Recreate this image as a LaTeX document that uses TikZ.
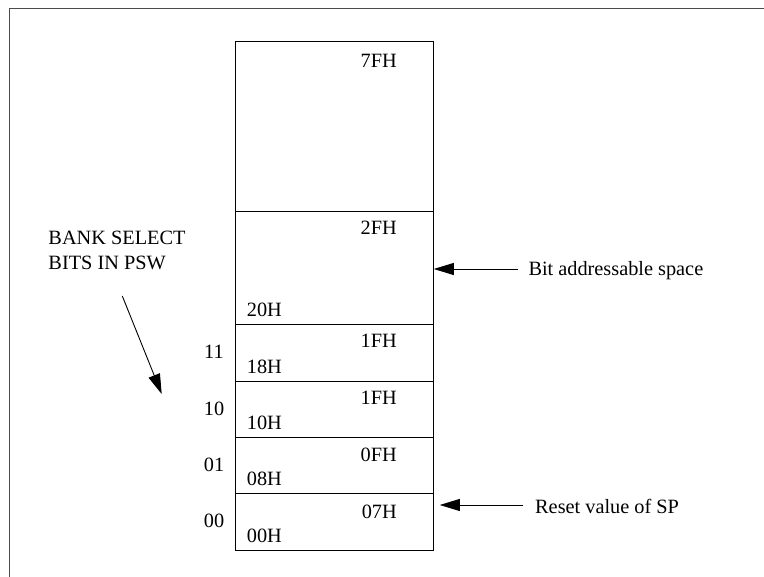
\documentclass[tikz,border=0pt]{standalone}
\usepackage{fontspec}
\setmainfont{Liberation Serif}
\usetikzlibrary{arrows.meta}
\begin{document}
\begin{tikzpicture}[x=1pt,y=-1pt,
  font=\fontsize{20.3}{24}\selectfont,
  cell/.style={draw=black, line width=1pt, inner sep=0pt, outer sep=0pt, anchor=north west, minimum width=197.6pt},
  hi/.style={anchor=base east, inner sep=0pt},
  lo/.style={anchor=base west, inner sep=0pt},
  bank/.style={anchor=base, inner sep=0pt},
  txt/.style={anchor=base west, inner sep=0pt},
  arr/.style={line width=0.9pt, -{Triangle[length=20pt,width=12pt]}},
  frame/.style={draw=black!70, line width=1.2pt}]
\useasboundingbox (0,0) rectangle (764,577);
\draw[frame] (764,8.5) -- (9.5,8.5) -- (9.5,577);
% memory cells
\node[cell, minimum height=169.7pt] (c7F) at (235.7,42) {};
\node[cell, minimum height=113.3pt] (c2F) at (235.7,211.7) {};
\node[cell, minimum height=56.7pt] (c1F) at (235.7,325) {};
\node[cell, minimum height=55.6pt] (c17) at (235.7,381.7) {};
\node[cell, minimum height=56.7pt] (c0F) at (235.7,437.3) {};
\node[cell, minimum height=56.7pt] (c07) at (235.7,494) {};
% address labels
\node[hi] (t7F) at (397,67.3) {7FH};
\node[hi] (t2F) at (397,235) {2FH};
\node[lo] (t20) at (246.7,317) {20H};
\node[hi] (t1Fa) at (397,347.7) {1FH};
\node[lo] (t18) at (246.7,374) {18H};
\node[hi] (t1Fb) at (397,405) {1FH};
\node[lo] (t10) at (246.7,430) {10H};
\node[hi] (t0F) at (397,461.7) {0FH};
\node[lo] (t08) at (246.7,486) {08H};
\node[hi] (t07) at (397,518.3) {07H};
\node[lo] (t00) at (246.7,542.3) {00H};
% bank select values
\node[bank] (b11) at (214,358.3) {11};
\node[bank] (b10) at (214,415.7) {10};
\node[bank] (b01) at (214,471.7) {01};
\node[bank] (b00) at (214,527.7) {00};
% annotations
\node[txt] (bk1) at (48.3,245) {BANK SELECT};
\node[txt] (bk2) at (48.3,270) {BITS IN PSW};
\node[txt] (bit) at (528.3,275.7) {Bit addressable space};
\node[txt] (rst) at (535,514) {Reset value of SP};
% arrows
\coordinate (bkS) at (122.3,296);
\coordinate (bkE) at (161.7,394);
\draw[arr] (bkS) -- (bkE);
\coordinate (bitS) at (518.3,269);
\draw[arr] (bitS) -- ([xshift=0.5pt]c2F.east |- bitS);
\coordinate (rstS) at (523.3,505);
\draw[arr] (rstS) -- ([xshift=6.5pt]c07.east |- rstS);
\end{tikzpicture}
\end{document}
